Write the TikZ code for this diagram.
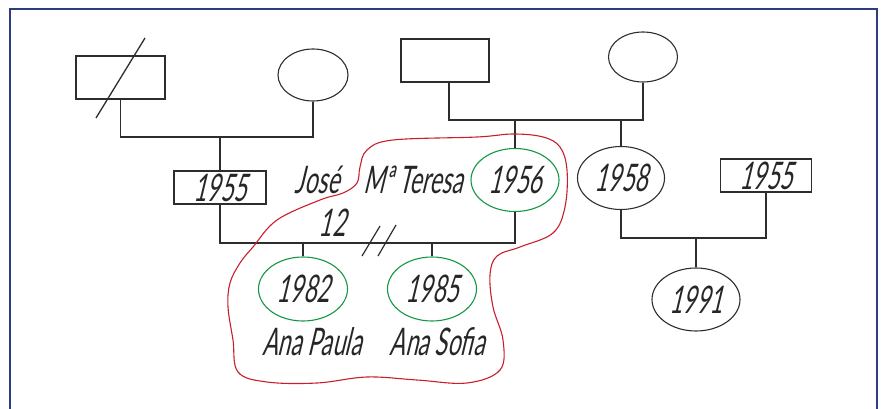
\documentclass[tikz,border=0pt]{standalone}
\usepackage{fontspec}
\usetikzlibrary{shapes.geometric}
\newfontfamily\hand[FakeSlant=0.24,FakeStretch=0.6]{Lato}
\definecolor{framecol}{RGB}{45,62,128}
\definecolor{linecol}{RGB}{45,45,45}
\definecolor{kin}{RGB}{20,150,70}
\definecolor{cloud}{RGB}{200,30,45}
\tikzset{
  kinline/.style={draw=linecol,line width=1.3pt},
  male/.style={draw=linecol,line width=1.3pt,rectangle,inner sep=0pt},
  female/.style={draw=linecol,line width=1.1pt,ellipse,inner sep=0pt},
  green/.style={female,draw=kin},
  label/.style={font=\hand\fontsize{38}{38}\selectfont,text=black!85,inner sep=0pt},
}
\begin{document}
\begin{tikzpicture}[x=1pt,y=-1pt]
\useasboundingbox (0,0) rectangle (881,409);
% frame
\draw[framecol,line width=1.6pt] (10,412) -- (10,9) -- (877,9) -- (877,412);

% grandparents, left side
\node[male,minimum width=89pt,minimum height=43pt] (gf1) at (120.5,77.5) {};
\draw[linecol,line width=1.3pt] (96,118) -- (145,38);
\node[female,minimum width=70pt,minimum height=52pt] (gm1) at (313,75) {};
% grandparents, right side
\node[male,minimum width=88pt,minimum height=43pt] (gf2) at (445,60.5) {};
\node[female,minimum width=69pt,minimum height=50pt] (gm2) at (643,57) {};

% parents' generation
\node[male,label,minimum width=92pt,minimum height=33pt] (jose) at (220,187.5) {1955};
\node[green,label,minimum width=88pt,minimum height=63pt] (teresa) at (515,180) {1956};
\node[female,label,minimum width=87pt,minimum height=63pt] (sis) at (621,178) {1958};
\node[male,label,minimum width=91pt,minimum height=33pt] (bil) at (766,175.5) {1955};

% children
\node[green,label,minimum width=89pt,minimum height=64pt] (paula) at (303,289) {1982};
\node[green,label,minimum width=89pt,minimum height=64pt] (sofia) at (432,289) {1985};
\node[female,label,minimum width=88pt,minimum height=63pt] (niece) at (696,299.5) {1991};

% names
\node[label] (njose) at (317,180) {José};
\node[label] (nteresa) at (413,180) {Mª Teresa};
\node[label] (nyears) at (332,223) {12};
\node[label] (npaula) at (312,342) {Ana Paula};
\node[label] (nsofia) at (437,342) {Ana Sofia};

% marriage and descent lines
\coordinate (m1) at (220,137);
\coordinate (m2) at (515,120);
\coordinate (m3) at (303,243);
\coordinate (m4) at (696,238);
\draw[kinline] (gf1.south) -- (gf1.south |- m1) -- (gm1.south |- m1) -- (gm1.south);
\draw[kinline] (m1) -- (jose.north);
\draw[kinline] (gf2.south -| 449,0) -- (449,120) -- (gm2.south |- m2) -- (gm2.south);
\draw[kinline] (m2) -- (teresa.north);
\draw[kinline] (sis.north |- m2) -- (sis.north);
\draw[kinline] (jose.south) -- (jose.south |- m3) -- (teresa.south |- m3) -- (teresa.south);
\draw[kinline] (m3) -- (paula.north);
\draw[kinline] (sofia.north |- m3) -- (sofia.north);
\draw[kinline] (sis.south) -- (sis.south |- m4) -- (bil.south |- m4) -- (bil.south);
\draw[kinline] (m4) -- (niece.north);
% divorce mark
\draw[linecol,line width=1.2pt] (362,256) -- (380,226);
\draw[linecol,line width=1.2pt] (378,256) -- (396,225);

% household boundary
\draw[cloud,line width=1.1pt] plot[smooth cycle,tension=0.6] coordinates {
  (513,134) (543,137) (560,147) (567,170) (565,207) (553,233) (520,247)
  (497,256) (490,275) (493,307) (503,340) (500,370) (467,383) (417,380)
  (367,377) (317,383) (267,382) (238,372) (233,340) (228,307) (230,283)
  (240,263) (253,247) (277,220) (320,200) (343,193) (357,183) (360,167)
  (367,150) (393,140) (477,137)};
\end{tikzpicture}
\end{document}
